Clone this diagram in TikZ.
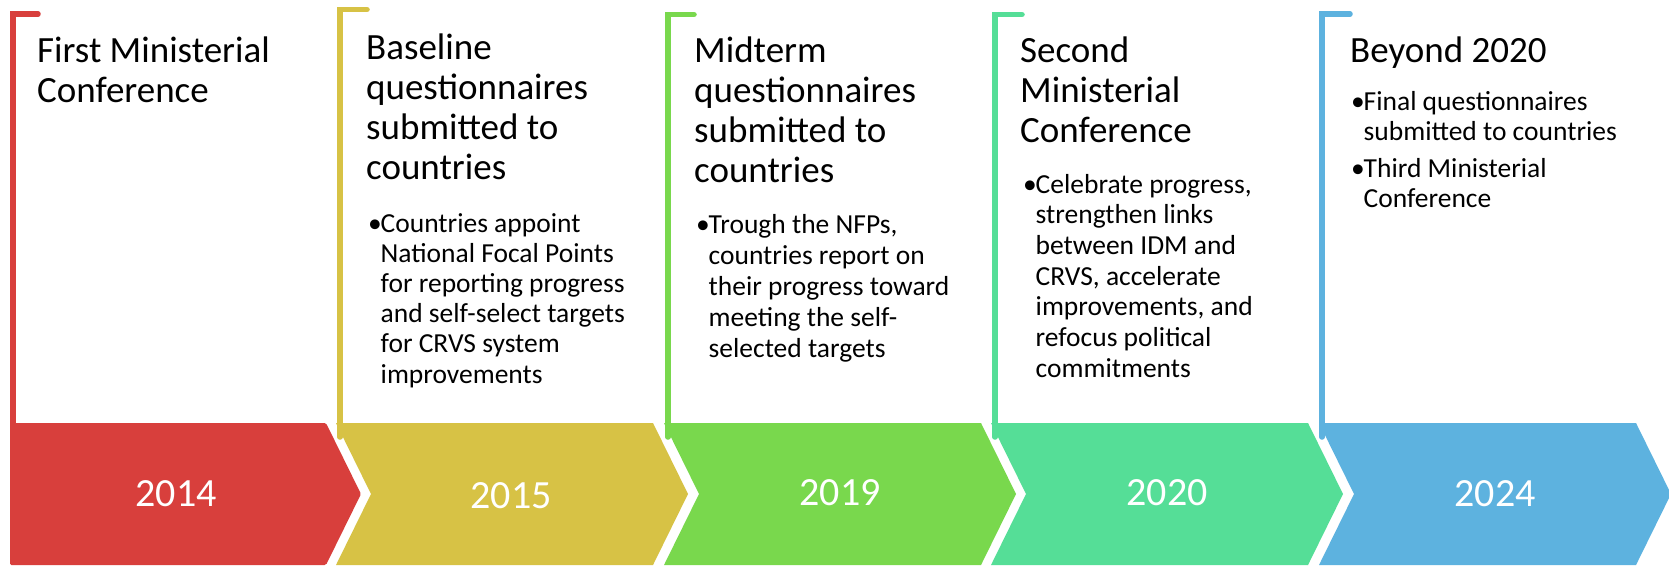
\documentclass[tikz,border=0pt]{standalone}
\usepackage{fontspec}
\setmainfont{Carlito}
\definecolor{cred}{HTML}{D83F3C}
\definecolor{cyel}{HTML}{D7C245}
\definecolor{cgrn}{HTML}{79D84D}
\definecolor{ctea}{HTML}{55DE97}
\definecolor{cblu}{HTML}{5DB2DF}
\newcommand{\bul}{\makebox[12.5pt][l]{\textbullet}}
\tikzset{
  ttl/.style={anchor=base west, inner sep=0pt, font=\fontsize{37}{40}\selectfont},
  bdy/.style={anchor=base west, inner sep=0pt, font=\fontsize{27.5}{#1}\selectfont},
  bdy/.default={30.5},
  yr/.style={anchor=base, inner sep=0pt, text=white, font=\fontsize{40}{44}\selectfont},
  bracket/.style={line width=5.5pt, draw=#1, line cap=round, line join=miter},
}
\begin{document}
\begin{tikzpicture}[x=1pt,y=-1pt]
\useasboundingbox (0,0) rectangle (1669,566);
\fill[white] (0,0) rectangle (1669,566);
% brackets
\draw[bracket=cred] (13,424) -- (13,14) -- (38,14);
\draw[bracket=cyel] (340,437) -- (340,9.5) -- (367,9.5);
\draw[bracket=cgrn] (668,437) -- (668,14.5) -- (694,14.5);
\draw[bracket=ctea] (995,437) -- (995,14.5) -- (1022,14.5);
\draw[bracket=cblu] (1322,437) -- (1322,14) -- (1350,14);
% chevrons
\fill[cred, rounded corners=1.5pt] (10,423) -- (326,423) -- (361,494) -- (326,565) -- (10,565) -- cycle;
\fill[cyel] (336,423) -- (653,423) -- (688,494) -- (653,565) -- (336,565) -- (371,494) -- cycle;
\fill[cgrn] (664,423) -- (981,423) -- (1016,494) -- (981,565) -- (664,565) -- (699,494) -- cycle;
\fill[ctea] (991,423) -- (1308,423) -- (1343,494) -- (1308,565) -- (991,565) -- (1026,494) -- cycle;
\fill[cblu] (1319,423) -- (1636,423) -- (1671,494) -- (1636,565) -- (1319,565) -- (1354,494) -- cycle;
% years
\node[yr] (y1) at (176,506) {2014};
\node[yr] (y2) at (511,508) {2015};
\node[yr] (y3) at (840,505) {2019};
\node[yr] (y4) at (1167,505) {2020};
\node[yr] (y5) at (1495,506) {2024};
% titles
\node[ttl] (t1) at (37,62) {\begin{tabular}[t]{@{}l@{}}First Ministerial\\Conference\end{tabular}};
\node[ttl] (t2) at (366,59) {\begin{tabular}[t]{@{}l@{}}Baseline\\questionnaires\\submitted to\\countries\end{tabular}};
\node[ttl] (t3) at (694,62) {\begin{tabular}[t]{@{}l@{}}Midterm\\questionnaires\\submitted to\\countries\end{tabular}};
\node[ttl] (t4) at (1020,62) {\begin{tabular}[t]{@{}l@{}}Second\\Ministerial\\Conference\end{tabular}};
\node[ttl] (t5) at (1350,62) {Beyond 2020};
% bodies
\node[bdy=30.2] (b2) at (368,232) {\begin{tabular}[t]{@{}l@{}l@{}}\bul&Countries appoint\\&National Focal Points\\&for reporting progress\\&and self-select targets\\&for CRVS system\\&improvements\end{tabular}};
\node[bdy=31] (b3) at (696,233) {\begin{tabular}[t]{@{}l@{}l@{}}\bul&Trough the NFPs,\\&countries report on\\&their progress toward\\&meeting the self-\\&selected targets\end{tabular}};
\node[bdy=30.7] (b4) at (1023,193) {\begin{tabular}[t]{@{}l@{}l@{}}\bul&Celebrate progress,\\&strengthen links\\&between IDM and\\&CRVS, accelerate\\&improvements, and\\&refocus political\\&commitments\end{tabular}};
\node[bdy=30] (b5) at (1351,110) {\begin{tabular}[t]{@{}l@{}l@{}}\bul&Final questionnaires\\&submitted to countries\\[7pt]\bul&Third Ministerial\\&Conference\end{tabular}};
\end{tikzpicture}
\end{document}
